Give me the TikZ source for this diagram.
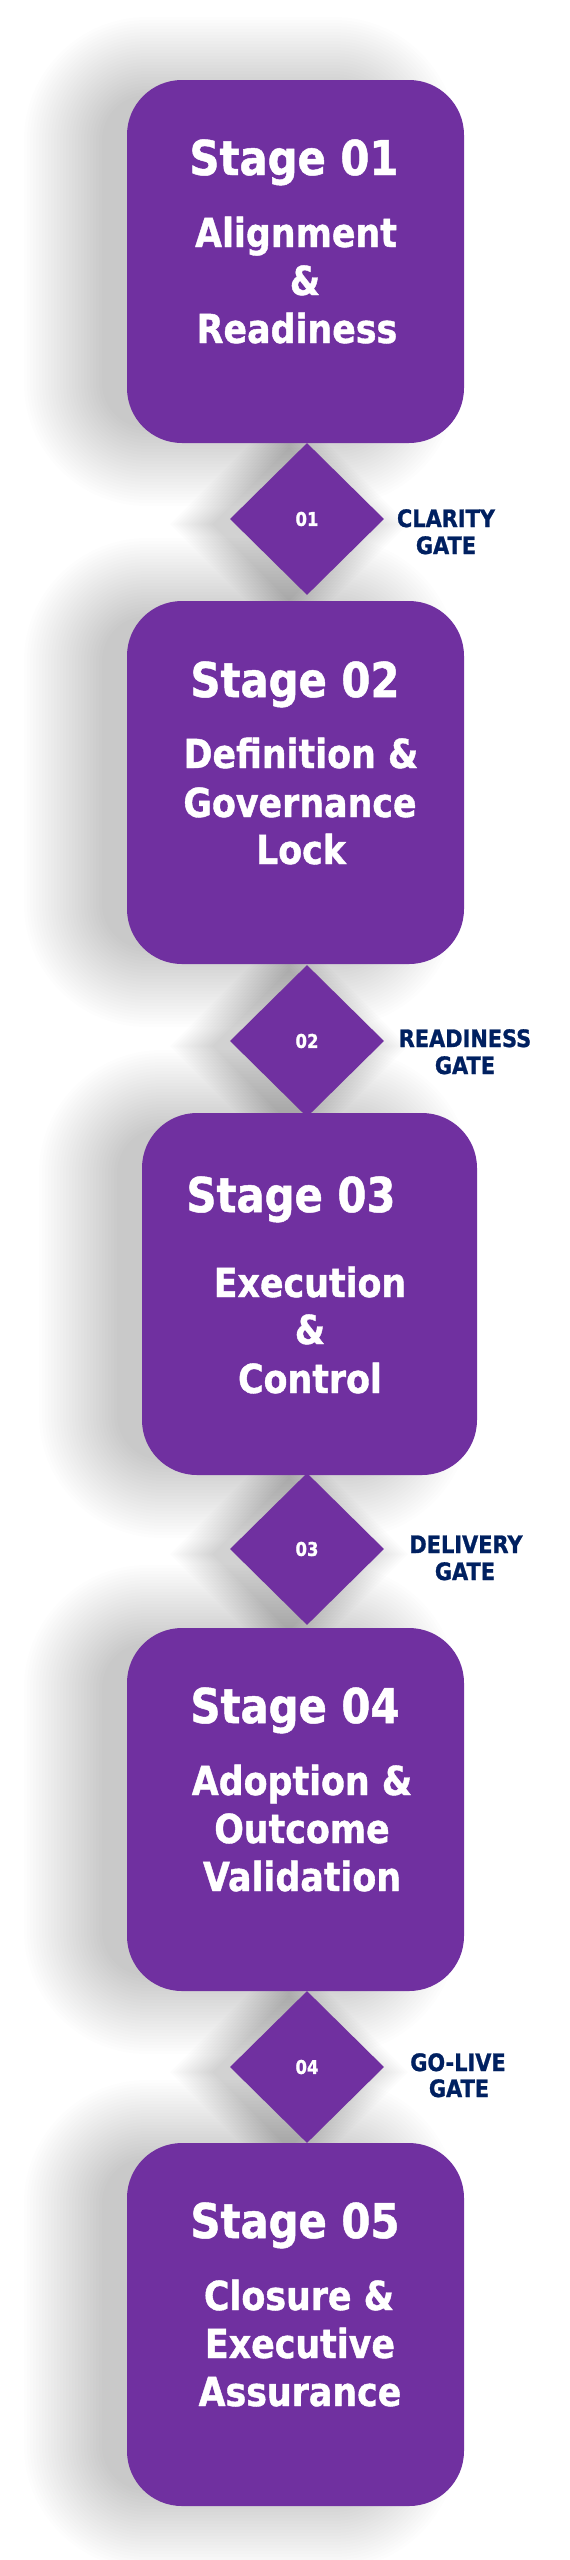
\documentclass[tikz,border=0pt]{standalone}
\usepackage{fontspec}
\newfontfamily\tahb[FakeStretch=0.87,FakeBold=1]{DejaVu Sans Bold}
\usetikzlibrary{shapes.geometric}
\definecolor{stagepurple}{HTML}{7030A0}
\definecolor{gatenavy}{HTML}{002060}
\tikzset{
  stagebox/.style={fill=stagepurple, draw=none, rounded corners=55pt, inner sep=0pt},
  gatediamond/.style={diamond, fill=stagepurple, draw=none, inner sep=0pt,
    minimum width=154pt, minimum height=152pt, text=white,
    font=\tahb\fontsize{19}{19}\selectfont},
  titletext/.style={anchor=base, text=white, inner sep=0pt, font=\tahb\fontsize{48}{48}\selectfont},
  subtext/.style={anchor=base, text=white, inner sep=0pt, font=\tahb\fontsize{40}{40}\selectfont},
  gatelabel/.style={anchor=base, text=gatenavy, inner sep=0pt, font=\tahb\fontsize{24}{24}\selectfont},
  shadowlayer/.style={fill=black, draw=none}
}
\newcommand\boxshadow[4]{%
  \foreach \k in {0,...,26}{%
    \pgfmathsetmacro\rr{45+3*\k}%
    \fill[shadowlayer, fill opacity=0.0080, rounded corners=\rr pt]
      ({#1-25-3*\k},{#2+15-3*\k}) rectangle ({#3-85+3*\k},{#4-15+3*\k});
  }}
\newcommand\diamondshadow[2]{%
  \foreach \k in {0,...,14}{%
    \pgfmathsetmacro\hh{77+3*\k}%
    \fill[shadowlayer, fill opacity=0.012]
      ({#1-18-\hh},{#2+5}) -- ({#1-18},{#2+5-\hh}) -- ({#1-18+\hh},{#2+5}) -- ({#1-18},{#2+5+\hh}) -- cycle;
  }}
\begin{document}
\begin{tikzpicture}[x=1pt,y=-1pt]
\fill[white] (0,0) rectangle (570,2560);
\useasboundingbox (0,0) rectangle (570,2560);

% shadows
\boxshadow{127}{80}{464}{443}
\boxshadow{127}{601}{464}{964}
\boxshadow{142}{1113}{477}{1475}
\boxshadow{127}{1628}{464}{1991}
\boxshadow{127}{2143}{464}{2506}
\diamondshadow{307}{519}
\diamondshadow{307}{1041}
\diamondshadow{307}{1549}
\diamondshadow{307}{2067}

% stage boxes
\node[stagebox, minimum width=337pt, minimum height=363pt] (st1) at (295.5,261.5) {};
\node[stagebox, minimum width=337pt, minimum height=363pt] (st2) at (295.5,782.5) {};
\node[stagebox, minimum width=335pt, minimum height=362pt] (st3) at (309.5,1294) {};
\node[stagebox, minimum width=337pt, minimum height=363pt] (st4) at (295.5,1809.5) {};
\node[stagebox, minimum width=337pt, minimum height=363pt] (st5) at (295.5,2324.5) {};

% gates
\node[gatediamond] (g1) at (307,519) {01};
\node[gatediamond] (g2) at (307,1041) {02};
\node[gatediamond] (g3) at (307,1549) {03};
\node[gatediamond] (g4) at (307,2067) {04};

% stage texts
\node[titletext] (t1) at (294,175) {Stage 01};
\node[subtext] (t1a) at (296,247) {Alignment};
\node[subtext] (t1b) at (305,295) {\&};
\node[subtext] (t1c) at (297,343) {Readiness};

\node[titletext] (t2) at (295,697) {Stage 02};
\node[subtext] (t2a) at (301,768) {Definition \&};
\node[subtext] (t2b) at (300,817) {Governance};
\node[subtext] (t2c) at (301,864) {Lock};

\node[titletext] (t3) at (291,1212) {Stage 03};
\node[subtext] (t3a) at (310,1297) {Execution};
\node[subtext] (t3b) at (310,1344) {\&};
\node[subtext] (t3c) at (310,1393) {Control};

\node[titletext] (t4) at (295,1723) {Stage 04};
\node[subtext] (t4a) at (302,1795) {Adoption \&};
\node[subtext] (t4b) at (302,1843) {Outcome};
\node[subtext] (t4c) at (302,1891) {Validation};

\node[titletext] (t5) at (295,2238) {Stage 05};
\node[subtext] (t5a) at (299,2310) {Closure \&};
\node[subtext] (t5b) at (300,2358) {Executive};
\node[subtext] (t5c) at (300,2406) {Assurance};

% gate labels
\node[gatelabel] (l1a) at (446,527) {CLARITY};
\node[gatelabel] (l1b) at (446,554) {GATE};
\node[gatelabel] (l2a) at (465,1047) {READINESS};
\node[gatelabel] (l2b) at (465,1074) {GATE};
\node[gatelabel] (l3a) at (466,1553) {DELIVERY};
\node[gatelabel] (l3b) at (465,1580) {GATE};
\node[gatelabel] (l4a) at (458,2071) {GO-LIVE};
\node[gatelabel] (l4b) at (459,2097) {GATE};
\end{tikzpicture}
\end{document}
